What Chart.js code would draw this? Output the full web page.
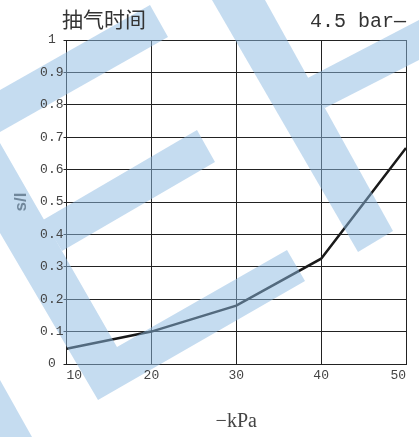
<!DOCTYPE html>
<html><head><meta charset="utf-8">
<script src="https://cdn.jsdelivr.net/npm/chart.js@4/dist/chart.umd.min.js"></script>
<style>html,body{margin:0;padding:0;background:#fff;}</style>
</head><body>
<canvas id="c" width="419" height="437"></canvas>
<script>
// ---- data ----
const pressures = [10, 20, 30, 40, 50];            // -kPa
const times = [0.047, 0.1, 0.18, 0.325, 0.667];     // s/l
const seriesLabel = '4.5 bar';
const yTickValues = [0, 0.1, 0.2, 0.3, 0.4, 0.5, 0.6, 0.7, 0.8, 0.9, 1];
const yTickLabels = ['0', '0.1', '0.2', '0.3', '0.4', '0.5', '0.6', '0.7', '0.8', '0.9', '1'];
const xTickValues = [10, 20, 30, 40, 50];
const xTickLabels = ['10', '20', '30', '40', '50'];
const chartTitle = '抽气时间';
const xTitle = '−kPa';
const yTitle = 's/l';

// ---- decoration (background watermark stripes, canvas pixels) ----
const watermark = [
  [[0,90],[150,5],[168,37],[0,132]],
  [[0,143],[117,347],[287,250],[305,281],[98,400],[0,233]],
  [[43,220],[62,251],[215,162],[197,130]],
  [[0,380],[32,437],[0,437]],
  [[212,0],[265,0],[393,231],[358,252]],
  [[300,82],[419,20],[419,60],[325,108]]
];

const watermarkPlugin = {
  id: 'wm',
  afterDatasetsDraw(chart) {
    const {ctx, width, height} = chart;
    const off = document.createElement('canvas');
    off.width = width; off.height = height;
    const o = off.getContext('2d');
    o.fillStyle = 'rgb(140,185,225)';
    watermark.forEach(poly => {
      o.beginPath();
      poly.forEach(([x, y], i) => i ? o.lineTo(x, y) : o.moveTo(x, y));
      o.closePath();
      o.fill();
    });
    ctx.save();
    ctx.globalAlpha = 0.5;
    ctx.drawImage(off, 0, 0);
    ctx.restore();
  }
};

const headerPlugin = {
  id: 'header',
  afterDraw(chart) {
    const {ctx} = chart;
    ctx.save();
    ctx.fillStyle = '#333';
    ctx.font = '21px "Noto Sans CJK SC"';
    ctx.textBaseline = 'middle';
    ctx.textAlign = 'left';
    ctx.fillText(chartTitle, 62, 19);
    ctx.font = '20px "Liberation Mono"';
    ctx.textBaseline = 'alphabetic';
    ctx.textAlign = 'right';
    ctx.fillText(chart.data.datasets[0].label + '—', 406, 27);
    ctx.restore();
  }
};

new Chart(document.getElementById('c'), {
  type: 'line',
  data: {
    datasets: [{
      label: seriesLabel,
      data: pressures.map((p, i) => ({x: p, y: times[i]})),
      borderColor: '#1a1a1a',
      borderWidth: 2.5,
      pointRadius: 0,
      tension: 0,
      fill: false
    }]
  },
  options: {
    responsive: false,
    devicePixelRatio: 1,
    animation: false,
    layout: {padding: {top: 40, right: 13, left: 0, bottom: 0}},
    plugins: {legend: {display: false}, title: {display: false}, tooltip: {enabled: false}},
    scales: {
      x: {
        type: 'linear', min: 10, max: 50,
        afterBuildTicks: s => { s.ticks = xTickValues.map(v => ({value: v})); },
        afterFit: s => { s.height = 73; },
        ticks: {
          callback: v => xTickLabels[xTickValues.indexOf(v)],
          font: {family: 'Liberation Mono', size: 13},
          color: '#444', align: 'inner', padding: 4, maxRotation: 0, z: 1
        },
        grid: {color: '#222', lineWidth: 1, drawTicks: false},
        border: {color: '#222', width: 1},
        title: {display: true, text: xTitle, color: '#444',
          font: {family: 'Liberation Serif', size: 20}, padding: {top: 0, bottom: 3}}
      },
      y: {
        type: 'linear', min: 0, max: 1,
        afterBuildTicks: s => { s.ticks = yTickValues.map(v => ({value: v})); },
        afterFit: s => { s.width = 66.5; },
        ticks: {
          callback: v => yTickLabels[yTickValues.findIndex(t => Math.abs(t - v) < 1e-9)],
          font: {family: 'Liberation Mono', size: 13},
          color: '#444', crossAlign: 'center', padding: 0, z: 1
        },
        grid: {color: '#222', lineWidth: 1, tickLength: 3},
        border: {color: '#222', width: 1},
        title: {display: true, text: yTitle, color: '#555',
          font: {family: 'Liberation Sans', size: 17, weight: 'bold'}, padding: {top: 11, bottom: 0}}
      }
    }
  },
  plugins: [watermarkPlugin, headerPlugin]
});
</script>
</body></html>
